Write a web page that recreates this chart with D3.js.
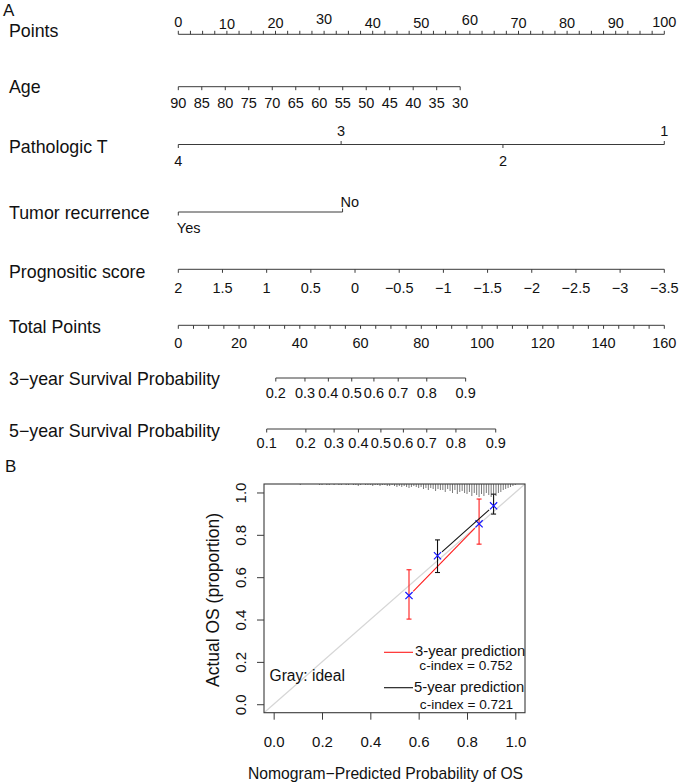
<!DOCTYPE html>
<html>
<head>
<meta charset="utf-8">
<script src="https://cdn.jsdelivr.net/npm/d3@7"></script>
<style>
  html, body { margin: 0; padding: 0; background: #fff; }
  svg { display: block; font-family: "Liberation Sans", Arial, sans-serif; }
</style>
</head>
<body>
<svg id="chart" width="685" height="783"></svg>
<script>
// ---------------- DATA ----------------
// Panel A: nomogram
const rowTitles = ["Points", "Age", "Pathologic T", "Tumor recurrence", "Prognositic score",
                   "Total Points", "3\u2212year Survival Probability", "5\u2212year Survival Probability"];
const pointsTickLabels = [0, 10, 20, 30, 40, 50, 60, 70, 80, 90, 100];
const ageValues = [90, 85, 80, 75, 70, 65, 60, 55, 50, 45, 40, 35, 30];
const ageEndValues = [90, 30];
const ageEndPoints = [0, 58];
const pathTLevels = ["4", "3", "2", "1"];
const pathTPoints = [0, 33.5, 66.8, 100];
const recurrenceLevels = ["Yes", "No"];
const recurrencePoints = [0, 33.8];
const scoreValues = [2, 1.5, 1, 0.5, 0, -0.5, -1, -1.5, -2, -2.5, -3, -3.5];
const scoreEndValues = [2, -3.5];
const scoreEndPoints = [0, 100];
const totalTickLabels = [0, 20, 40, 60, 80, 100, 120, 140, 160];
const surv3Probs = [0.2, 0.3, 0.4, 0.5, 0.6, 0.7, 0.8, 0.9];
const surv3TotalPoints = [32.1, 41.7, 49.4, 57.1, 64.4, 72.4, 81.8, 94.6];
const surv5Probs = [0.1, 0.2, 0.3, 0.4, 0.5, 0.6, 0.7, 0.8, 0.9];
const surv5TotalPoints = [29.1, 42.0, 51.3, 59.3, 66.7, 74.1, 81.8, 91.4, 104.5];

// Panel B: calibration
const cal3Pred = [0.560, 0.850];
const cal3Obs  = [0.513, 0.852];
const cal3Lo   = [0.402, 0.756];
const cal3Hi   = [0.635, 0.969];
const cal5Pred = [0.678, 0.910];
const cal5Obs  = [0.701, 0.937];
const cal5Lo   = [0.622, 0.898];
const cal5Hi   = [0.776, 0.992];
const calTicks = [0, 0.2, 0.4, 0.6, 0.8, 1.0];
const riskBins = [0.10,0.11,0.12,0.13,0.14,0.15,0.16,0.17,0.18,0.19,
                  0.20,0.21,0.22,0.23,0.24,0.25,0.26,0.27,0.28,0.29,
                  0.30,0.31,0.32,0.33,0.34,0.35,0.36,0.37,0.38,0.39,
                  0.40,0.41,0.42,0.43,0.44,0.45,0.46,0.47,0.48,0.49,
                  0.50,0.51,0.52,0.53,0.54,0.55,0.56,0.57,0.58,0.59,
                  0.60,0.61,0.62,0.63,0.64,0.65,0.66,0.67,0.68,0.69,
                  0.70,0.71,0.72,0.73,0.74,0.75,0.76,0.77,0.78,0.79,
                  0.80,0.81,0.82,0.83,0.84,0.85,0.86,0.87,0.88,0.89,
                  0.90,0.91,0.92,0.93,0.94,0.95,0.96,0.97,0.98,0.99,1.00];
const riskCounts = [0,1,0,0,0,0,0,0,0,1,
                    1,0,1,1,0,1,0,1,1,0,
                    1,1,0,1,1,2,1,0,1,1,
                    1,2,1,1,2,1,1,2,2,1,
                    2,3,2,3,2,3,4,3,2,3,
                    4,3,5,4,6,4,5,7,5,6,
                    6,8,5,7,9,6,10,8,7,9,
                    10,8,12,9,11,13,10,12,9,11,
                    13,10,12,9,8,6,5,4,3,2,1];
const legendLabels = ["3-year prediction", "c-index = 0.752", "5-year prediction", "c-index = 0.721"];

// ---------------- DRAWING ----------------
const svg = d3.select("#chart");
const lineCol = "#3a3a3a";
const txtCol = "#111";
const fmtMinus = v => String(v).replace("-", "\u2212");

// panel letters
svg.append("text").attr("x", 3).attr("y", 16).attr("font-size", 17).attr("fill", txtCol).text("A");
svg.append("text").attr("x", 5).attr("y", 472).attr("font-size", 17).attr("fill", txtCol).text("B");

// row title baselines & axis line positions
const rowTitleY = [37, 93, 153, 219, 278, 333, 385, 437];
const rowLineY = {points: 34.3, age: 86.7, pathT: 144.5, rec: 212, score: 269.3, total: 325.3, s3: 378, s5: 429};

svg.append("g").selectAll("text").data(rowTitles).join("text")
  .attr("x", 9).attr("y", (d, i) => rowTitleY[i])
  .attr("font-size", 17.8).attr("fill", txtCol).text(d => d);

const xPts = d3.scaleLinear().domain([0, 100]).range([178.3, 664.3]);
const xTot = d3.scaleLinear().domain([0, 160]).range([178.3, 664.3]);
const tickFont = 14.5;

function hline(g, x1, x2, y) {
  g.append("line").attr("x1", x1).attr("x2", x2).attr("y1", y).attr("y2", y)
    .attr("stroke", lineCol).attr("stroke-width", 1);
}
function ticks(g, xs, y, len) {
  g.append("g").selectAll("line").data(xs).join("line")
    .attr("x1", d => d).attr("x2", d => d).attr("y1", y).attr("y2", y + len)
    .attr("stroke", lineCol).attr("stroke-width", 1);
}
function labels(g, items, anchor) {
  g.append("g").selectAll("text").data(items).join("text")
    .attr("x", d => d.x).attr("y", d => d.y)
    .attr("text-anchor", d => d.anchor || anchor || "middle")
    .attr("font-size", tickFont).attr("fill", txtCol).text(d => d.t);
}
const nomo = svg.append("g");

// Points
{
  const y = rowLineY.points;
  hline(nomo, xPts(0), xPts(100), y);
  ticks(nomo, d3.range(0, 100.01, 2.5).map(xPts), y, -3.5);
  const lift = {0: 1.5, 10: -1, 30: 4, 60: 3.5, 80: 0.5, 100: 1};
  labels(nomo, pointsTickLabels.map(v => ({x: xPts(v), y: 28.3 - (lift[v] || 0), t: v})));
}
// Age
{
  const y = rowLineY.age;
  const s = d3.scaleLinear().domain(ageEndValues).range(ageEndPoints);
  hline(nomo, xPts(s(90)), xPts(s(30)), y);
  ticks(nomo, ageValues.map(v => xPts(s(v))), y, 3.5);
  labels(nomo, ageValues.map(v => ({x: xPts(s(v)), y: 108.3, t: v})));
}
// Pathologic T
{
  const y = rowLineY.pathT;
  hline(nomo, xPts(pathTPoints[0]), xPts(pathTPoints[3]), y);
  pathTLevels.forEach((lv, i) => {
    const up = (i % 2 === 1);
    const x = xPts(pathTPoints[i]);
    ticks(nomo, [x], y, up ? -3.5 : 3.5);
    labels(nomo, [{x: x, y: up ? 136 : 166, t: lv}]);
  });
}
// Tumor recurrence
{
  const y = rowLineY.rec;
  const x0 = xPts(recurrencePoints[0]), x1 = xPts(recurrencePoints[1]);
  hline(nomo, x0, x1, y);
  ticks(nomo, [x0], y, 3.5);
  ticks(nomo, [x1], y, -3.5);
  labels(nomo, [{x: x0 - 1.5, y: 233, t: recurrenceLevels[0]},
                {x: x1 - 2, y: 207, t: recurrenceLevels[1]}], "start");
}
// Prognositic score
{
  const y = rowLineY.score;
  const s = d3.scaleLinear().domain(scoreEndValues).range(scoreEndPoints);
  hline(nomo, xPts(s(2)), xPts(s(-3.5)), y);
  ticks(nomo, scoreValues.map(v => xPts(s(v))), y, 3.5);
  labels(nomo, scoreValues.map(v => ({x: xPts(s(v)), y: 292.5, t: fmtMinus(v)})));
}
// Total points
{
  const y = rowLineY.total;
  hline(nomo, xTot(0), xTot(160), y);
  ticks(nomo, d3.range(0, 160.01, 5).map(xTot), y, 3.5);
  labels(nomo, totalTickLabels.map(v => ({x: xTot(v), y: 347.5, t: v})));
}
// 3-year survival
{
  const y = rowLineY.s3;
  const xs = surv3TotalPoints.map(xTot);
  hline(nomo, xs[0], xs[xs.length - 1], y);
  ticks(nomo, xs, y, 3.5);
  labels(nomo, surv3Probs.map((p, i) => ({x: xs[i], y: 397.5, t: p.toFixed(1)})));
}
// 5-year survival
{
  const y = rowLineY.s5;
  const xs = surv5TotalPoints.map(xTot);
  hline(nomo, xs[0], xs[xs.length - 1], y);
  ticks(nomo, xs, y, 3.5);
  labels(nomo, surv5Probs.map((p, i) => ({x: xs[i], y: 448, t: p.toFixed(1)})));
}

// ---------------- Panel B ----------------
const box = {l: 264, r: 525, t: 484, b: 712.7};
const xc = d3.scaleLinear().domain([-0.04, 1.04]).range([box.l, box.r]);
const yc = d3.scaleLinear().domain([-0.04, 1.04]).range([box.b, box.t]);
const cal = svg.append("g");

// ideal line
cal.append("line")
  .attr("x1", xc(-0.04)).attr("y1", yc(-0.04)).attr("x2", xc(1.04)).attr("y2", yc(1.04))
  .attr("stroke", "#d6d6d6").attr("stroke-width", 1.2);

// risk distribution spikes
cal.append("g").selectAll("line").data(riskBins).join("line")
  .attr("x1", d => xc(d)).attr("x2", d => xc(d))
  .attr("y1", box.t).attr("y2", (d, i) => box.t + riskCounts[i] * 1.0)
  .attr("stroke", "#7a7a7a").attr("stroke-width", 1)
  .attr("display", (d, i) => riskCounts[i] > 0 ? null : "none");

// calibration series
function series(pred, obs, lo, hi, col) {
  const g = cal.append("g");
  // connecting segments with gaps (type = "b")
  for (let i = 0; i < pred.length - 1; i++) {
    const x1 = xc(pred[i]), y1 = yc(obs[i]), x2 = xc(pred[i + 1]), y2 = yc(obs[i + 1]);
    const L = Math.hypot(x2 - x1, y2 - y1), gap = 6;
    const ux = (x2 - x1) / L, uy = (y2 - y1) / L;
    g.append("line")
      .attr("x1", x1 + ux * gap).attr("y1", y1 + uy * gap)
      .attr("x2", x2 - ux * gap).attr("y2", y2 - uy * gap)
      .attr("stroke", col).attr("stroke-width", 1.1);
  }
  // error bars
  pred.forEach((p, i) => {
    const x = xc(p);
    g.append("line").attr("x1", x).attr("x2", x).attr("y1", yc(lo[i])).attr("y2", yc(hi[i]))
      .attr("stroke", col).attr("stroke-width", 1.1);
    [lo[i], hi[i]].forEach(v => {
      g.append("line").attr("x1", x - 2.5).attr("x2", x + 2.5).attr("y1", yc(v)).attr("y2", yc(v))
        .attr("stroke", col).attr("stroke-width", 1.1);
    });
  });
  // blue x markers
  pred.forEach((p, i) => {
    const x = xc(p), y = yc(obs[i]), r = 3.6;
    g.append("path")
      .attr("d", `M${x - r},${y - r}L${x + r},${y + r}M${x - r},${y + r}L${x + r},${y - r}`)
      .attr("stroke", "#1515ff").attr("stroke-width", 1.2).attr("fill", "none");
  });
}
series(cal3Pred, cal3Obs, cal3Lo, cal3Hi, "#ff1a1a");
series(cal5Pred, cal5Obs, cal5Lo, cal5Hi, "#111");

// box
cal.append("rect").attr("x", box.l).attr("y", box.t)
  .attr("width", box.r - box.l).attr("height", box.b - box.t)
  .attr("fill", "none").attr("stroke", lineCol).attr("stroke-width", 1.1);

// x axis
const xAxis = d3.axisBottom(xc).tickValues(calTicks).tickSize(7).tickSizeOuter(0)
  .tickFormat(d3.format(".1f"));
const gx = cal.append("g").attr("transform", `translate(0,${box.b})`).call(xAxis);
gx.select(".domain").remove();
gx.selectAll(".tick line").attr("stroke", lineCol);
gx.selectAll(".tick text").attr("font-size", 15).attr("fill", txtCol)
  .attr("font-family", "Liberation Sans, Arial, sans-serif")
  .attr("dy", null).attr("y", 34);

// y axis (labels parallel to axis)
const yAxis = d3.axisLeft(yc).tickValues(calTicks).tickSize(7).tickSizeOuter(0)
  .tickFormat(d3.format(".1f"));
const gy = cal.append("g").attr("transform", `translate(${box.l},0)`).call(yAxis);
gy.select(".domain").remove();
gy.selectAll(".tick line").attr("stroke", lineCol);
gy.selectAll(".tick text").attr("font-size", 15).attr("fill", txtCol)
  .attr("font-family", "Liberation Sans, Arial, sans-serif")
  .attr("x", null).attr("dy", null).attr("y", null)
  .attr("text-anchor", "middle")
  .attr("transform", "translate(-18.5,0) rotate(-90)");

// axis titles
cal.append("text").attr("x", 385.5).attr("y", 778.5).attr("text-anchor", "middle")
  .attr("font-size", 15.7).attr("fill", txtCol).text("Nomogram\u2212Predicted Probability of OS");
cal.append("text").attr("transform", "translate(218.5,600) rotate(-90)").attr("text-anchor", "middle")
  .attr("font-size", 17.5).attr("fill", txtCol).text("Actual OS (proportion)");

// annotations / legend
cal.append("text").attr("x", 269.5).attr("y", 680.5).attr("font-size", 15.6).attr("fill", txtCol)
  .text("Gray: ideal");
cal.append("line").attr("x1", 384).attr("x2", 413).attr("y1", 652.3).attr("y2", 652.3)
  .attr("stroke", "#ff1a1a").attr("stroke-width", 1.1);
cal.append("line").attr("x1", 384).attr("x2", 413).attr("y1", 687.7).attr("y2", 687.7)
  .attr("stroke", "#111").attr("stroke-width", 1.1);
cal.append("text").attr("x", 415).attr("y", 655.5).attr("font-size", 14.8).attr("fill", txtCol).text(legendLabels[0]);
cal.append("text").attr("x", 466).attr("y", 669.5).attr("text-anchor", "middle").attr("font-size", 13.6).attr("fill", txtCol).text(legendLabels[1]);
cal.append("text").attr("x", 414).attr("y", 691.5).attr("font-size", 14.8).attr("fill", txtCol).text(legendLabels[2]);
cal.append("text").attr("x", 466.5).attr("y", 708.5).attr("text-anchor", "middle").attr("font-size", 13.6).attr("fill", txtCol).text(legendLabels[3]);
</script>
</body>
</html>
